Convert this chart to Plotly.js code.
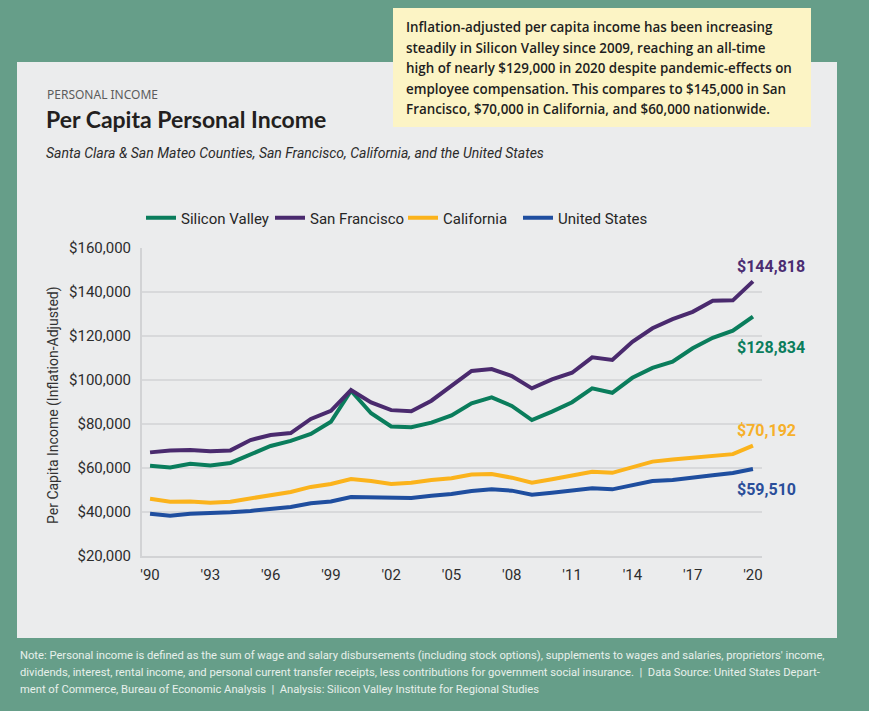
<!DOCTYPE html>
<html><head><meta charset="utf-8">
<script src="https://cdn.plot.ly/plotly-3.0.1.min.js"></script>
<style>html,body{margin:0;padding:0;background:#669e89;}#chart{width:869px;height:711px;}</style>
</head><body><div id="chart"></div>
<script>
const years = [1990,1991,1992,1993,1994,1995,1996,1997,1998,1999,2000,2001,2002,2003,2004,2005,2006,2007,2008,2009,2010,2011,2012,2013,2014,2015,2016,2017,2018,2019,2020];
const siliconValley = [61000,60200,61900,61100,62300,66200,70000,72300,75500,81000,95100,84900,78900,78500,80600,83900,89400,92100,88200,81800,85600,89900,96200,94200,101000,105500,108300,114400,119200,122400,128834];
const sanFrancisco = [67100,68000,68200,67600,68000,72700,75000,75900,82300,86000,95400,89800,86300,85800,90600,97300,104100,105000,101800,96200,100300,103300,110300,109100,117400,123500,127700,131000,136000,136200,144818];
const california = [46000,44700,44800,44200,44700,46200,47900,49100,51400,52700,55000,54100,52700,53300,54500,55300,57000,57300,55600,53300,54900,56400,58300,57800,60500,62900,63900,64700,65100,66300,70192];
const unitedStates = [39200,38300,39200,39400,39900,40500,41200,42300,44000,44800,46800,46800,46400,46400,47400,48200,49500,50300,49700,47900,48800,49700,50800,50300,52000,54100,54500,55400,56700,57700,59510];
const seriesNames = ["Silicon Valley","San Francisco","California","United States"];
const seriesColors = ["#0a7d5c","#4a2a6e","#fbb31c","#1f4e9f"];
const labelColors = ["#0a7d5c","#4b2c72","#f6b02a","#2a4e9a"];
const xTickVals = [1990,1993,1996,1999,2002,2005,2008,2011,2014,2017,2020];
const xTickText = ["'90","'93","'96","'99","'02","'05","'08","'11","'14","'17","'20"];
const yTickVals = [20000,40000,60000,80000,100000,120000,140000,160000];
const yTickText = ["$20,000","$40,000","$60,000","$80,000","$100,000","$120,000","$140,000","$160,000"];
const calloutLines = [
  "Inflation-adjusted per capita income has been increasing",
  "steadily in Silicon Valley since 2009, reaching an all-time",
  "high of nearly $129,000 in 2020 despite pandemic-effects on",
  "employee compensation. This compares to $145,000 in San",
  "Francisco, $70,000 in California, and $60,000 nationwide."
];
const noteLines = [
  "Note: Personal income is defined as the sum of wage and salary disbursements (including stock options), supplements to wages and salaries, proprietors' income,",
  "dividends, interest, rental income, and personal current transfer receipts, less contributions for government social insurance.  |  Data Source: United States Depart-",
  "ment of Commerce, Bureau of Economic Analysis  |  Analysis: Silicon Valley Institute for Regional Studies"
];

const COND = 'Roboto, "Liberation Sans", sans-serif';
const SANS = '"Noto Sans", "Open Sans", sans-serif';
const W = 869, H = 711, L = 142, R = 762, T = 248, B = 556;
const fx = px => (px - L) / (R - L);
const fy = py => (B - py) / (B - T);

const allSeries = [siliconValley, sanFrancisco, california, unitedStates];
const legendIds = ["legend","legend2","legend3","legend4"];
const legendX = [141, 270, 403, 518];

const traces = allSeries.map((vals, i) => ({
  x: years, y: vals, type: "scatter", mode: "lines", name: seriesNames[i],
  line: {color: seriesColors[i], width: 4},
  legend: legendIds[i], hoverinfo: "x+y"
}));

const endShift = [[-18, -31], [-18, 15], [-18, 15], [-18, -20]];
const annotations = [];
allSeries.forEach((vals, i) => {
  const v = vals[vals.length - 1];
  annotations.push({
    x: years[years.length - 1], y: v, xref: "x", yref: "y",
    xanchor: "left", yanchor: "middle", xshift: endShift[i][0], yshift: endShift[i][1],
    text: "$" + v.toLocaleString("en-US"), showarrow: false,
    font: {family: COND, size: 16, color: labelColors[i], weight: 700}
  });
});
annotations.push({xref:"paper", yref:"paper", x: fx(45), y: fy(94.5), xanchor:"left", yanchor:"middle",
  text: "PERSONAL INCOME", showarrow:false, font:{family: SANS, size: 12, color:"#5c5c5c"}});
annotations.push({xref:"paper", yref:"paper", x: fx(44), y: fy(119), xanchor:"left", yanchor:"middle",
  text: "<b>Per Capita Personal Income</b>", showarrow:false, font:{family: '"Lato", "Noto Sans", sans-serif', size: 23, color:"#231f20"}});
annotations.push({xref:"paper", yref:"paper", x: fx(44), y: fy(153), xanchor:"left", yanchor:"middle",
  text: "<i>Santa Clara &amp; San Mateo Counties, San Francisco, California, and the United States</i>", showarrow:false, font:{family: COND, size: 14, color:"#2b2b2b"}});
annotations.push({xref:"paper", yref:"paper", x: fx(53), y: fy(405), xanchor:"center", yanchor:"middle", textangle: -90,
  text: "Per Capita Income (Inflation-Adjusted)", showarrow:false, font:{family: COND, size: 14, color:"#333"}});
calloutLines.forEach((t, k) => {
  annotations.push({xref:"paper", yref:"paper", x: fx(404), y: fy(27 + k * 20.6), xanchor:"left", yanchor:"middle",
    text: t, showarrow:false, font:{family: '"Open Sans", "Lato", sans-serif', size: 13.4, color:"#1e1e1e", weight: 600}});
});
noteLines.forEach((t, k) => {
  annotations.push({xref:"paper", yref:"paper", x: fx(18), y: fy(655 + k * 17), xanchor:"left", yanchor:"middle",
    text: t, showarrow:false, font:{family: COND, size: 11.2, color:"#e8f0eb"}});
});

const legendBase = {orientation: "h", yanchor: "middle", xanchor: "left", y: fy(218),
  bgcolor: "rgba(0,0,0,0)", font: {family: COND, size: 15, color: "#262626"}};
const layout = {
  width: W, height: H, autosize: false,
  margin: {l: L, r: W - R, t: T, b: H - B, pad: 0},
  paper_bgcolor: "#669e89", plot_bgcolor: "rgba(0,0,0,0)",
  showlegend: true,
  xaxis: {range: [1989.6, 2020.45], tickvals: xTickVals, ticktext: xTickText, showgrid: false,
    showline: true, linecolor: "#d2d3d5", linewidth: 2, ticks: "", zeroline: false,
    tickfont: {family: COND, size: 15, color: "#2d2d2d"}, ticklabelstandoff: 4, fixedrange: true},
  yaxis: {range: [20000, 160000], tickvals: yTickVals, ticktext: yTickText,
    showgrid: true, gridcolor: "#d8d9db", gridwidth: 1.5, showline: true, linecolor: "#d2d3d5", linewidth: 2,
    ticks: "", zeroline: false, tickfont: {family: COND, size: 15, color: "#2d2d2d"}, ticklabelstandoff: 6, fixedrange: true},
  shapes: [
    {type:"rect", xref:"paper", yref:"paper", x0: fx(17), x1: fx(837), y0: fy(638), y1: fy(62),
      fillcolor:"#ebeced", line:{width:0}, layer:"below"},
    {type:"rect", xref:"paper", yref:"paper", x0: fx(393), x1: fx(811), y0: fy(127), y1: fy(8),
      fillcolor:"#fcf4c5", line:{width:0}, layer:"below"}
  ],
  annotations: annotations
};
legendIds.forEach((id, i) => { layout[id] = Object.assign({}, legendBase, {x: fx(legendX[i])}); });

Plotly.newPlot("chart", traces, layout, {displayModeBar: false, staticPlot: true});
</script>
</body></html>
